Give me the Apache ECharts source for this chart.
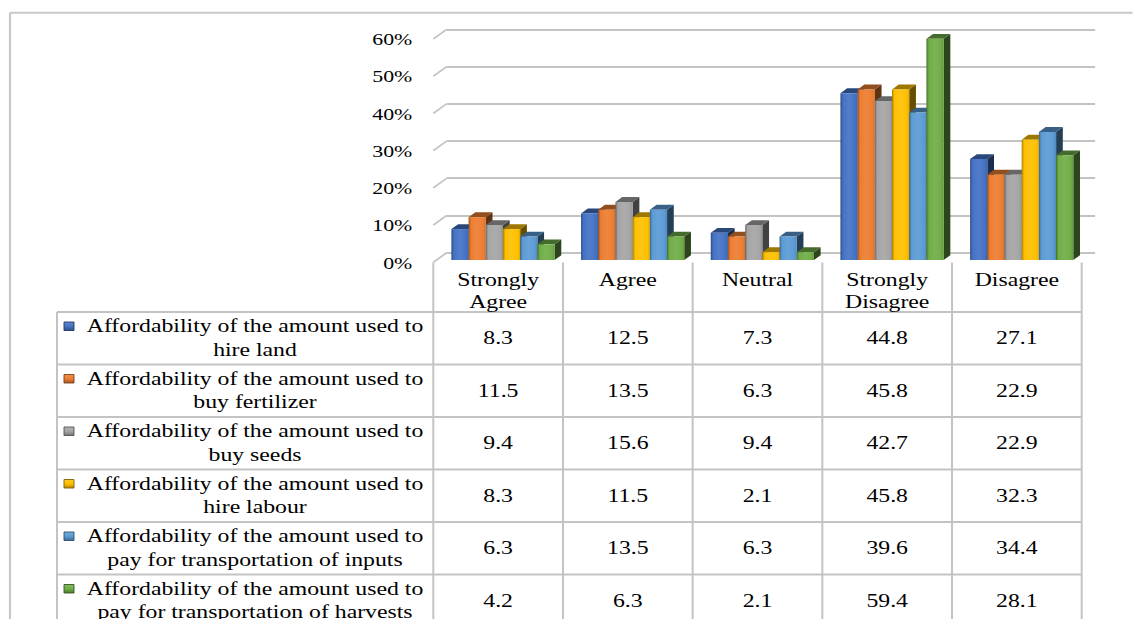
<!DOCTYPE html>
<html>
<head>
<meta charset="utf-8">
<script src="https://cdn.jsdelivr.net/npm/echarts@6/dist/echarts.min.js"></script>
<style>
  html, body { margin: 0; padding: 0; background: #fff; overflow: hidden; }
  #wrap { position: relative; width: 1133px; height: 619px; overflow: hidden; }
  /* the drawing surface is laid out narrow and widened by STRETCH */
  #chart { position: absolute; left: 0; top: 0; width: 906.4px; height: 619px;
           transform: scaleX(1.25); transform-origin: 0 0; }
</style>
</head>
<body>
<div id="wrap"><div id="chart"></div></div>
<script>
// ---- data ----
const categories = ['Strongly\nAgree', 'Agree', 'Neutral', 'Strongly\nDisagree', 'Disagree'];
const seriesNames = [
  'Affordability of the amount used to\nhire land',
  'Affordability of the amount used to\nbuy fertilizer',
  'Affordability of the amount used to\nbuy seeds',
  'Affordability of the amount used to\nhire labour',
  'Affordability of the amount used to\npay for transportation of inputs',
  'Affordability of the amount used to\npay for transportation of harvests'
];
const hireLand          = [8.3, 12.5, 7.3, 44.8, 27.1];
const buyFertilizer     = [11.5, 13.5, 6.3, 45.8, 22.9];
const buySeeds          = [9.4, 15.6, 9.4, 42.7, 22.9];
const hireLabour        = [8.3, 11.5, 2.1, 45.8, 32.3];
const transportInputs   = [6.3, 13.5, 6.3, 39.6, 34.4];
const transportHarvests = [4.2, 6.3, 2.1, 59.4, 28.1];
const yTicks = [0, 10, 20, 30, 40, 50, 60];

const seriesValues = [hireLand, buyFertilizer, buySeeds, hireLabour, transportInputs, transportHarvests];
const colors = ['#4472C4', '#ED7D31', '#A5A5A5', '#FFC000', '#5B9BD5', '#70AD47'];

// ---- layout helpers ----
const STRETCH = 1.25;              // horizontal widening of the drawing surface
const X = v => v / STRETCH;        // page x -> surface x
const DEPTH_X = X(13.4);           // oblique depth offset (front -> back wall)
const DEPTH_Y = -9.7;
const BAR_FRAC = 17.2 / 129.7;     // bar width as share of a category
const GROUP_SHIFT = 1.5 / 129.7;   // cluster offset inside a category
const FONT = '"Liberation Serif", "Times New Roman", serif';
const GRID_LINE = '#C3C3C3';

function shade(hex, f) {
  const n = parseInt(hex.slice(1), 16);
  let r = n >> 16, g = (n >> 8) & 255, b = n & 255;
  const t = f < 0 ? 0 : 255, p = Math.abs(f);
  r = Math.round((t - r) * p + r);
  g = Math.round((t - g) * p + g);
  b = Math.round((t - b) * p + b);
  return 'rgb(' + r + ',' + g + ',' + b + ')';
}

// 3D column: front face, top face and right side face
function columnRenderer(sIdx) {
  const base = colors[sIdx];
  const frontFill = new echarts.graphic.LinearGradient(0, 0, 1, 0, [
    { offset: 0, color: shade(base, -0.35) },
    { offset: 0.14, color: base },
    { offset: 0.5, color: shade(base, 0.08) },
    { offset: 0.86, color: base },
    { offset: 1, color: shade(base, -0.12) }
  ]);
  return function (params, api) {
    const cat = api.value(0), v = api.value(1);
    const p0 = api.coord([cat, 0]);
    const p1 = api.coord([cat, v]);
    const catW = api.size([1, 0])[0];
    const barW = catW * BAR_FRAC;
    // bar front sits a quarter of the depth behind the front edge
    const fx = -0.75 * DEPTH_X, fy = -0.75 * DEPTH_Y;
    const dx = 0.5 * DEPTH_X, dy = 0.5 * DEPTH_Y;
    const left = p0[0] + fx + catW * GROUP_SHIFT - 3 * barW + sIdx * barW;
    const right = left + barW;
    const yb = p0[1] + fy, yt = p1[1] + fy;
    return {
      type: 'group',
      children: [
        { type: 'polygon', shape: { points: [[right, yt], [right + dx, yt + dy], [right + dx, yb + dy], [right, yb]] },
          style: { fill: shade(base, -0.6) } },
        { type: 'polygon', shape: { points: [[left, yt], [right, yt], [right + dx, yt + dy], [left + dx, yt + dy]] },
          style: { fill: shade(base, -0.38) } },
        { type: 'rect', shape: { x: left, y: yt, width: barW, height: yb - yt },
          style: { fill: frontFill } }
      ]
    };
  };
}

const chart = echarts.init(document.getElementById('chart'), null, { renderer: 'svg' });

const series = seriesValues.map((vals, s) => ({
  type: 'custom',
  name: seriesNames[s],
  xAxisIndex: 0, yAxisIndex: 0,
  silent: true,
  renderItem: columnRenderer(s),
  data: vals.map((v, i) => [i, v])
}));

// short receding ticks joining the value labels to the back-wall gridlines
series.push({
  type: 'custom',
  name: 'wall ticks',
  xAxisIndex: 0, yAxisIndex: 0,
  silent: true,
  z: 1,
  renderItem: function (params, api) {
    const y = api.coord([0, api.value(1)])[1];
    const x = params.coordSys.x;
    return { type: 'line', shape: { x1: x - DEPTH_X, y1: y - DEPTH_Y, x2: x, y2: y },
             style: { stroke: GRID_LINE, lineWidth: 1.6 } };
  },
  data: yTicks.map(v => [0, v])
});

chart.setOption({
  animation: false,
  backgroundColor: '#fff',
  grid: [
    // back wall
    { left: X(446.7), top: 29.3, width: X(648.4), height: 223.4, outerBoundsMode: 'none' },
    // front plane
    { left: X(433.3), top: 39.0, width: X(648.4), height: 223.4, outerBoundsMode: 'none' }
  ],
  xAxis: [
    { type: 'category', gridIndex: 0, data: categories, show: false },
    { type: 'category', gridIndex: 1, data: categories, show: false }
  ],
  yAxis: [
    { type: 'value', gridIndex: 0, min: 0, max: 60, interval: 10,
      axisLine: { show: false }, axisTick: { show: false }, axisLabel: { show: false },
      splitLine: { show: true, lineStyle: { color: GRID_LINE, width: 2 } } },
    { type: 'value', gridIndex: 1, min: 0, max: 60, interval: 10,
      axisLine: { show: false }, axisTick: { show: false }, splitLine: { show: false },
      axisLabel: { formatter: '{value}%', margin: X(21), color: '#000',
                   fontFamily: FONT, fontSize: 17.5 } }
  ],
  series: series
});

// ---- data table under the plot, aligned to the front category axis ----
function buildTable() {
  const c0 = chart.convertToPixel({ gridIndex: 1 }, [0, 0]);
  const c1 = chart.convertToPixel({ gridIndex: 1 }, [1, 0]);
  const catW = c1[0] - c0[0];
  const floorY = c0[1];
  const colX = i => chart.convertToPixel({ gridIndex: 1 }, [i, 0])[0];
  const tableLeft = X(57);
  const tableRight = colX(categories.length - 1) + catW / 2;
  const headBottom = 312;
  const rowH = 52.5;
  const bottom = 640;
  const els = [];
  const lineStyle = w => ({ stroke: GRID_LINE, lineWidth: w });

  // outer chart frame
  els.push({ type: 'line', shape: { x1: X(10), y1: 12.7, x2: X(1140), y2: 12.7 }, style: { stroke: '#C8C8C8', lineWidth: 2 } });
  els.push({ type: 'line', shape: { x1: X(10), y1: 12.7, x2: X(10), y2: bottom }, style: { stroke: '#C8C8C8', lineWidth: X(2.2) } });

  // column rules
  for (let j = 0; j <= categories.length; j++) {
    const x = colX(0) - catW / 2 + j * catW;
    els.push({ type: 'line', shape: { x1: x, y1: floorY, x2: x, y2: bottom }, style: lineStyle(X(2)) });
  }
  els.push({ type: 'line', shape: { x1: tableLeft, y1: headBottom, x2: tableLeft, y2: bottom }, style: lineStyle(X(2)) });
  // row rules
  for (let k = 0; k < seriesNames.length; k++) {
    const y = headBottom + k * rowH;
    els.push({ type: 'line', shape: { x1: tableLeft, y1: y, x2: tableRight, y2: y }, style: lineStyle(2) });
  }
  // header
  categories.forEach((c, i) => {
    els.push({ type: 'text', x: colX(i), y: 269,
      style: { text: c, font: '19px ' + FONT, fill: '#000', align: 'center', verticalAlign: 'top', lineHeight: 22 } });
  });
  // rows
  seriesNames.forEach((name, s) => {
    const top = headBottom + s * rowH;
    els.push({ type: 'text', x: X(255), y: top + 2.3,
      style: { text: name, font: '19px ' + FONT, fill: '#000', align: 'center', verticalAlign: 'top', lineHeight: 23.5 } });
    els.push({ type: 'rect', shape: { x: X(64), y: top + 10, width: X(10), height: 8.5 },
      style: {
        fill: new echarts.graphic.LinearGradient(0, 0, 0, 1, [
          { offset: 0, color: shade(colors[s], 0.15) },
          { offset: 0.5, color: colors[s] },
          { offset: 1, color: shade(colors[s], -0.3) }
        ]),
        stroke: shade(colors[s], -0.5), lineWidth: 0.8
      } });
    seriesValues[s].forEach((v, i) => {
      els.push({ type: 'text', x: colX(i), y: top + rowH / 2,
        style: { text: v.toFixed(1), font: '19px ' + FONT, fill: '#000', align: 'center', verticalAlign: 'middle' } });
    });
  });
  chart.setOption({ graphic: { elements: els } });
}
buildTable();
</script>
</body>
</html>
